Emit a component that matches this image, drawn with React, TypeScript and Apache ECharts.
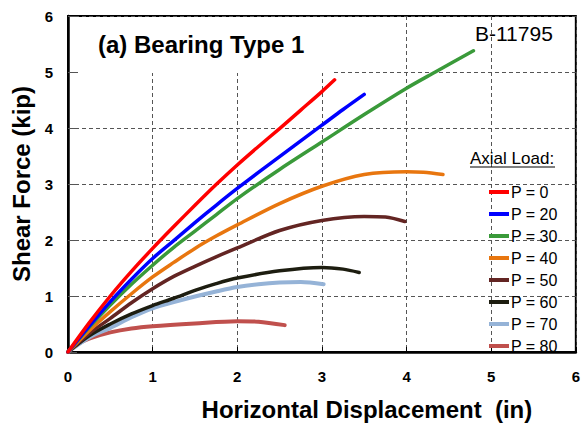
import React, { useEffect, useRef } from "react";
import * as echarts from "echarts";

const FONT = "'Liberation Sans', Arial, sans-serif";

const seriesNames = ["P = 0", "P = 20", "P = 30", "P = 40", "P = 50", "P = 60", "P = 70", "P = 80"];
const seriesColors = ["#FF0000", "#0000FF", "#3A9A3A", "#E8760F", "#632523", "#1D1D10", "#95B3D7", "#C0504D"];
const seriesWidths = [3.5, 3.5, 3.5, 3.5, 3.5, 3.5, 4, 4];

const p0: number[][] = [[0, 0], [0.25, 0.52], [0.5, 1.0], [0.75, 1.44], [1, 1.85], [1.25, 2.24], [1.5, 2.62], [1.75, 2.99], [2, 3.34], [2.25, 3.67], [2.5, 3.99], [2.75, 4.32], [3, 4.65], [3.15, 4.86]];
const p20: number[][] = [[0, 0], [0.25, 0.46], [0.5, 0.9], [0.75, 1.3], [1, 1.67], [1.25, 1.99], [1.5, 2.31], [1.75, 2.62], [2, 2.92], [2.5, 3.49], [3, 4.05], [3.25, 4.33], [3.5, 4.6]];
const p30: number[][] = [[0, 0], [0.25, 0.44], [0.5, 0.84], [0.75, 1.21], [1, 1.55], [1.25, 1.87], [1.5, 2.16], [1.75, 2.45], [2, 2.74], [2.5, 3.26], [3, 3.75], [3.5, 4.24], [4, 4.71], [4.34, 5.0], [4.79, 5.38]];
const p40: number[][] = [[0, 0], [0.25, 0.38], [0.5, 0.72], [0.75, 1.04], [1, 1.34], [1.25, 1.6], [1.5, 1.85], [1.75, 2.07], [2, 2.27], [2.5, 2.65], [3, 2.96], [3.5, 3.17], [4, 3.22], [4.2, 3.21], [4.43, 3.17]];
const p50: number[][] = [[0, 0], [0.25, 0.33], [0.5, 0.6], [0.75, 0.88], [1, 1.13], [1.25, 1.35], [1.5, 1.53], [1.75, 1.7], [2, 1.86], [2.5, 2.17], [3, 2.35], [3.5, 2.42], [3.75, 2.41], [3.98, 2.33]];
const p60: number[][] = [[0, 0], [0.25, 0.29], [0.5, 0.5], [0.75, 0.68], [1, 0.83], [1.25, 0.96], [1.5, 1.1], [1.75, 1.22], [2, 1.32], [2.5, 1.45], [3, 1.51], [3.25, 1.48], [3.44, 1.42]];
const p70: number[][] = [[0, 0], [0.25, 0.26], [0.5, 0.43], [0.75, 0.62], [1, 0.78], [1.25, 0.89], [1.5, 0.99], [1.75, 1.08], [2, 1.16], [2.25, 1.21], [2.5, 1.24], [2.75, 1.25], [3.02, 1.21]];
const p80: number[][] = [[0, 0], [0.1, 0.13], [0.25, 0.24], [0.5, 0.35], [0.75, 0.42], [1, 0.46], [1.5, 0.51], [2, 0.55], [2.25, 0.54], [2.56, 0.48]];

const seriesData = [p0, p20, p30, p40, p50, p60, p70, p80];

const xTicks = [0, 1, 2, 3, 4, 5, 6];
const yTicks = [0, 1, 2, 3, 4, 5, 6];

export default function App() {
  const ref = useRef<HTMLDivElement>(null);
  useEffect(() => {
    if (!ref.current) return;
    const chart = echarts.init(ref.current, undefined, { renderer: "svg" });
    const option: any = {
      animation: false,
      backgroundColor: "#fff",
      textStyle: { fontFamily: FONT },
      grid: {
        left: 68, right: 5, top: 16, bottom: 75,
        show: true, borderColor: "#000", borderWidth: 2, backgroundColor: "transparent",
      },
      xAxis: {
        type: "value", min: xTicks[0], max: xTicks[xTicks.length - 1], interval: 1,
        name: "Horizontal Displacement  (in)", nameLocation: "middle", nameGap: 45,
        nameTextStyle: { fontSize: 24, fontWeight: "bold", color: "#000", fontFamily: FONT, padding: [0, 0, 0, 90] },
        axisLine: { show: true, lineStyle: { color: "#000", width: 2.5 } },
        axisTick: { show: true, inside: true, length: 5, lineStyle: { color: "#000" } },
        axisLabel: { fontSize: 15, fontWeight: "bold", color: "#000", margin: 17, fontFamily: FONT },
        splitLine: { show: true, lineStyle: { color: "#555", width: 1, type: [4, 3] } },
      },
      yAxis: {
        type: "value", min: yTicks[0], max: yTicks[yTicks.length - 1], interval: 1,
        name: "Shear Force (kip)", nameLocation: "middle", nameGap: 32,
        nameTextStyle: { fontSize: 24, fontWeight: "bold", color: "#000", fontFamily: FONT },
        axisLine: { show: true, lineStyle: { color: "#000", width: 2.5 } },
        axisTick: { show: true, inside: true, length: 9, lineStyle: { color: "#555" } },
        axisLabel: { fontSize: 15, fontWeight: "bold", color: "#000", margin: 15, fontFamily: FONT },
        splitLine: { show: true, lineStyle: { color: "#555", width: 1, type: [4, 3] } },
      },
      legend: {
        orient: "vertical", left: 484, top: 179,
        itemWidth: 20, itemHeight: 4, itemGap: 6, icon: "rect",
        data: seriesNames,
        textStyle: { fontSize: 16, color: "#000", lineHeight: 16, fontFamily: FONT, padding: [0, 0, 0, -3] },
      },
      graphic: [
        { type: "rect", z: 10, shape: { x: 78, y: 17, width: 255, height: 56 }, style: { fill: "#fff" } },
        { type: "text", z: 11, x: 98, y: 44, style: { text: "(a) Bearing Type 1", fontSize: 24, fontWeight: "bold", fill: "#000", fontFamily: FONT, textVerticalAlign: "middle" } },
        { type: "text", z: 11, x: 475, y: 33, style: { text: "B-11795", fontSize: 21, fill: "#000", fontFamily: FONT, textVerticalAlign: "middle" } },
        { type: "text", z: 11, x: 470, y: 158, style: { text: "Axial Load:", fontSize: 17, fill: "#000", fontFamily: FONT, textVerticalAlign: "middle" } },
        { type: "line", z: 11, shape: { x1: 470, y1: 167, x2: 555, y2: 167 }, style: { stroke: "#000", lineWidth: 1.2 } },
      ],
      series: seriesNames.map((name, i) => ({
        name,
        type: "line",
        data: seriesData[i],
        smooth: 0.3,
        showSymbol: false,
        symbol: "none",
        color: seriesColors[i],
        lineStyle: { color: seriesColors[i], width: seriesWidths[i], cap: "round", join: "round" },
        z: 20 - i,
      })),
    };
    chart.setOption(option);
    return () => chart.dispose();
  }, []);
  return <div ref={ref} style={{ width: 583, height: 427, position: "absolute", left: 0, top: 0 }} />;
}
